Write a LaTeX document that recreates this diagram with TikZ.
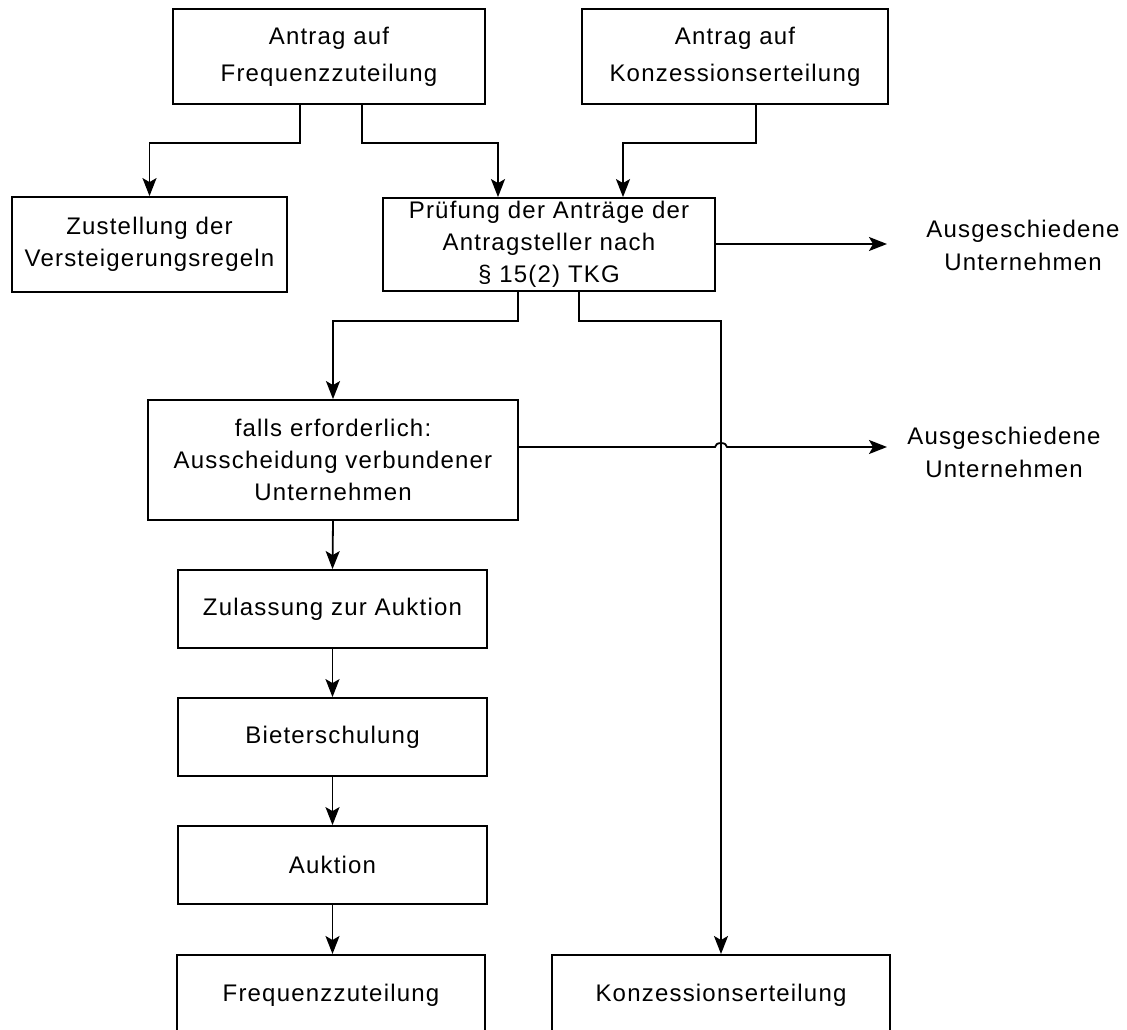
\documentclass[tikz,border=0pt]{standalone}
\usepackage{fontspec}
\setmainfont[LetterSpace=5]{Liberation Sans}
\usetikzlibrary{arrows.meta}
\begin{document}
\begin{tikzpicture}[x=1pt,y=-1pt,
  box/.style={draw, line width=1.8pt, align=center, inner sep=0pt, font=\fontsize{24}{32}\selectfont},
  tbox/.style={box, font=\fontsize{24}{37}\selectfont},
  openbox/.style={draw, line width=1.8pt, inner sep=0pt, anchor=north, text height=47pt, text depth=60pt, font=\fontsize{24}{32}\selectfont},
  lbl/.style={align=center, inner sep=0pt, font=\fontsize{24}{33}\selectfont},
  conn/.style={line width=1.8pt},
  arr/.style={conn, -{Stealth[length=18pt,width=14pt,inset=4pt]}}]
\useasboundingbox (0,0) rectangle (1127,1030);
\clip (0,0) rectangle (1127,1030);
% boxes
\node[tbox, minimum width=312pt, minimum height=95pt] (af) at (329,56.5) {Antrag auf\\Frequenzzuteilung};
\node[tbox, minimum width=306pt, minimum height=95pt] (ak) at (735,56.5) {Antrag auf\\Konzessionserteilung};
\node[box, minimum width=275pt, minimum height=95pt] (zu) at (149.5,244.5) {Zustellung der\\Versteigerungsregeln};
\node[box, minimum width=332pt, minimum height=93pt] (pr) at (549,244.5) {Prüfung der Anträge der\\Antragsteller nach\\§ 15(2) TKG};
\node[box, minimum width=370pt, minimum height=120pt] (fe) at (333,460) {falls erforderlich:\\Ausscheidung verbundener\\Unternehmen};
\node[box, minimum width=309pt, minimum height=78pt] (za) at (332.5,609) {Zulassung zur Auktion};
\node[box, minimum width=309pt, minimum height=78pt] (bi) at (332.5,737) {Bieterschulung};
\node[box, minimum width=309pt, minimum height=78pt] (au) at (332.5,865) {Auktion};
\node[openbox, minimum width=308pt] (fz) at (331,954) {Frequenzzuteilung};
\node[openbox, minimum width=338pt] (kz) at (721,954) {Konzessionserteilung};
% labels
\node[lbl] (ag1) at (1023,245) {Ausgeschiedene\\Unternehmen};
\node[lbl] (ag2) at (1004,452) {Ausgeschiedene\\Unternehmen};
\coordinate (t1) at (887,244);
\coordinate (t2) at (887,447);
\coordinate (x2) at (721,447);
% connectors
\draw[arr] ([xshift=-29pt]af.south) -- ++(0,38) -| (zu.north);
\draw[arr] ([xshift=33pt]af.south) -- ++(0,38) -| ([xshift=-51pt]pr.north);
\draw[arr] ([xshift=21pt]ak.south) -- ++(0,38) -| ([xshift=74pt]pr.north);
\draw[arr] ([xshift=-31pt]pr.south) -- ++(0,29) -| (fe.north);
\draw[arr] ([xshift=30pt]pr.south) -- ++(0,29) -| (kz.north);
\draw[arr] (pr.east |- t1) -- (t1);
\draw[arr] (fe.east |- t2) -- ([xshift=-6pt]x2) arc[start angle=180, end angle=0, x radius=6pt, y radius=4pt] -- (t2);
\draw[arr] (fe.south) -- (za.north);
\draw[arr] (za.south) -- (bi.north);
\draw[arr] (bi.south) -- (au.north);
\draw[arr] (au.south) -- (au.south |- fz.north);
\end{tikzpicture}
\end{document}
